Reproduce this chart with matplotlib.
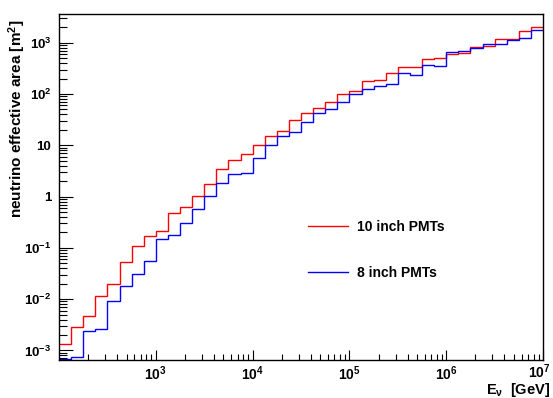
import matplotlib
matplotlib.use('Agg')
import matplotlib.pyplot as plt
import numpy as np
from matplotlib.ticker import FixedLocator, NullFormatter
from matplotlib.transforms import ScaledTranslation

plt.rcParams['font.family'] = ['Liberation Sans', 'DejaVu Sans']
plt.rcParams['font.weight'] = 'bold'
plt.rcParams['mathtext.fontset'] = 'custom'
plt.rcParams['mathtext.rm'] = 'Liberation Sans:bold'
plt.rcParams['mathtext.bf'] = 'Liberation Sans:bold'
plt.rcParams['mathtext.it'] = 'Liberation Sans:bold'
plt.rcParams['mathtext.default'] = 'rm'

# ---- data -------------------------------------------------------------
log_e_min, log_e_max, n_bins = 2.0, 7.0, 40
bin_edges = np.logspace(log_e_min, log_e_max, n_bins + 1)

area_10inch = [1.32e-3, 2.8e-3, 4.6e-3, 0.0116, 0.0196, 0.052, 0.108, 0.17,
               0.217, 0.472, 0.638, 1.04, 1.74, 3.41, 5.28, 6.79,
               9.95, 14.9, 18.8, 31.4, 41.8, 53.7, 68.5, 98,
               117, 179, 189, 259, 340, 340, 474, 509,
               595, 621, 824, 863, 1181, 1181, 1693, 2000]
area_8inch = [6.8e-4, 7.5e-4, 2.4e-3, 2.56e-3, 9.4e-3, 0.0183, 0.0303, 0.055,
              0.149, 0.181, 0.31, 0.565, 1.01, 1.85, 2.76, 2.94,
              5.78, 10.0, 15.5, 18.0, 28.6, 42.4, 50.7, 68.5,
              101, 125, 145, 156, 256, 234, 366, 351,
              658, 698, 778, 955, 955, 1114, 1253, 1795]

legend_labels = ['10 inch PMTs', '8 inch PMTs']
x_tick_vals = [1e3, 1e4, 1e5, 1e6, 1e7]
x_tick_labels = ['$10^{3}$', '$10^{4}$', '$10^{5}$', '$10^{6}$', '$10^{7}$']
y_tick_vals = [1e-3, 1e-2, 1e-1, 1, 10, 1e2, 1e3]
y_tick_labels = ['$10^{-3}$', '$10^{-2}$', '$10^{-1}$', '1', '10', '$10^{2}$', '$10^{3}$']

# ---- figure -----------------------------------------------------------
fig = plt.figure(figsize=(5.53, 3.98), dpi=100)
ax = fig.add_axes([59/553, 1 - 360/398, 484/553, 346/398])

ax.stairs(area_10inch, bin_edges, baseline=None, color='#ff0000', lw=1.0,
          label=legend_labels[0])
ax.stairs(area_8inch, bin_edges, baseline=None, color='#0000ff', lw=1.0,
          label=legend_labels[1])

ax.set_xscale('log')
ax.set_yscale('log')
ax.set_xlim(1e2, 1e7)
ax.set_ylim(6.5e-4, 3640)

ax.xaxis.set_major_locator(FixedLocator(x_tick_vals))
ax.set_xticklabels(x_tick_labels)
ax.yaxis.set_major_locator(FixedLocator(y_tick_vals))
ax.set_yticklabels(y_tick_labels)

x_minor = [m * 10.0**d for d in range(2, 7) for m in range(2, 10)]
y_minor = [m * 10.0**d for d in range(-4, 4) for m in range(2, 10)]
ax.xaxis.set_minor_locator(FixedLocator(x_minor))
ax.yaxis.set_minor_locator(FixedLocator(y_minor))
ax.xaxis.set_minor_formatter(NullFormatter())
ax.yaxis.set_minor_formatter(NullFormatter())

ax.tick_params(axis='x', which='major', direction='in', length=7.5, width=0.8,
               pad=3.5, labelsize=10)
ax.tick_params(axis='x', which='minor', direction='in', length=4.5, width=0.8)
ax.tick_params(axis='y', which='major', direction='in', length=10, width=0.8,
               pad=5.5, labelsize=9.5)
ax.tick_params(axis='y', which='minor', direction='in', length=5.5, width=0.8)
ax.tick_params(top=False, right=False, which='both')

# nudge the last x tick label so it stays inside the canvas
last = ax.get_xticklabels()[-1]
last.set_transform(last.get_transform() +
                   ScaledTranslation(-3/72, 1.5/72, fig.dpi_scale_trans))

for s in ax.spines.values():
    s.set_linewidth(1.0)
    s.set_color('black')

ax.set_ylabel('neutrino effective area [m$^{2}$]', loc='top', fontsize=11,
              fontweight='bold')
ax.yaxis.set_label_coords(-0.064, 0.985)
ax.set_xlabel(r'E$_{\nu}$  [GeV]', loc='right', fontsize=10.5, fontweight='bold')
ax.xaxis.set_label_coords(1.0145, -0.061)

leg = ax.legend(loc='upper left', bbox_to_anchor=(308/553, 1 - 220/398),
                bbox_transform=fig.transFigure, frameon=False, fontsize=10,
                handlelength=2.88, handletextpad=0.65, labelspacing=2.27,
                borderpad=0.0, borderaxespad=0.0)
for t in leg.get_texts():
    t.set_fontweight('bold')

fig.savefig('out.png', dpi=100)
